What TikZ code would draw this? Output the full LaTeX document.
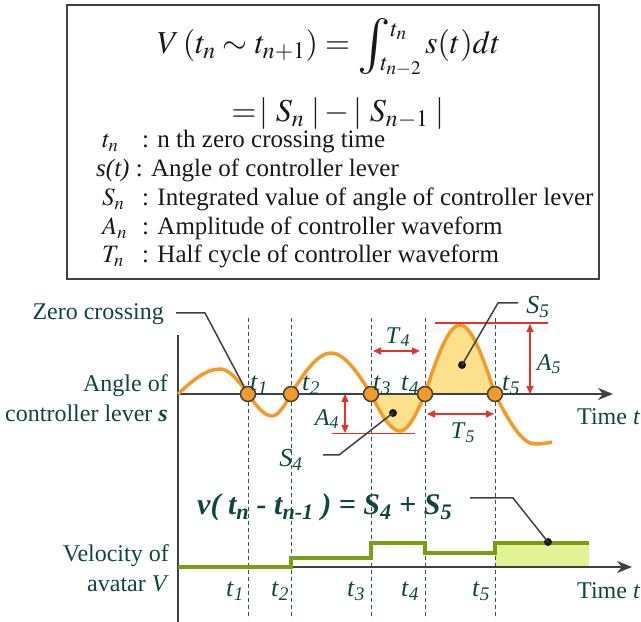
\documentclass[tikz,border=0pt]{standalone}
\usepackage{mathptmx}
\usepackage{fontspec}
\setmainfont{Liberation Serif}
\usetikzlibrary{arrows.meta}
\definecolor{tealc}{RGB}{14,70,66}
\definecolor{dashc}{RGB}{40,90,88}
\definecolor{orangec}{RGB}{243,155,38}
\definecolor{fillc}{RGB}{252,224,140}
\definecolor{redc}{RGB}{228,50,45}
\definecolor{greenc}{RGB}{122,160,18}
\definecolor{lgreen}{RGB}{228,242,150}
\definecolor{axisc}{RGB}{64,64,64}
\definecolor{inkc}{RGB}{25,25,25}
\newcommand{\bigint}{\mathop{\vcenter{\hbox{\scalebox{1.75}{$\textstyle\int$}}}}\nolimits}
\tikzset{
  lbl/.style={text=tealc, font=\fontsize{24}{30}\selectfont, inner sep=0pt},
  tl/.style={text=tealc, font=\fontsize{26}{30}\selectfont, inner sep=0pt, anchor=base west},
  leg/.style={text=inkc, font=\fontsize{25}{28}\selectfont, inner sep=0pt, anchor=base west},
  axisline/.style={draw=axisc, line width=2pt},
  axisarrow/.style={axisline, -{Stealth[length=15pt,width=12pt]}},
  dashv/.style={draw=dashc, line width=1pt, dash pattern=on 4pt off 3pt},
  wave/.style={draw=orangec, line width=3.5pt},
  zc/.style={circle, fill=orangec, draw=axisc, line width=1.5pt, minimum size=15pt, inner sep=0pt},
  redline/.style={draw=redc, line width=1.5pt},
  redarrow/.style={draw=redc, line width=1.5pt, {Triangle[length=8pt,width=7pt]}-{Triangle[length=8pt,width=7pt]}},
  leader/.style={draw=axisc, line width=1.5pt},
  blackdot/.style={circle, fill=inkc, minimum size=8pt, inner sep=0pt},
  greenline/.style={draw=greenc, line width=3.5pt},
}
\begin{document}
\begin{tikzpicture}[x=1pt,y=1pt]
\useasboundingbox (0,0) rectangle (641,622);
% ---------- legend box ----------
\node[draw=axisc, line width=2pt, minimum width=532pt, minimum height=274pt, anchor=north west, inner sep=0pt] (box) at (66,618) {};
\node[text=inkc, inner sep=0pt, anchor=base] (eq1) at (329,568) {\fontsize{32}{36}\selectfont $V\,(t_n \sim t_{n+1}) = \bigint^{\raisebox{-9pt}{$\scriptstyle t_n$}}_{\hspace{-10pt}\raisebox{5pt}{$\scriptstyle t_{n-2}$}} s(t)dt$};
\node[text=inkc, inner sep=0pt, anchor=base] (eq2) at (338,500) {\fontsize{32}{36}\selectfont $=\!|\;S_n\;| - |\;S_{n-1}\;|$};
\node[leg] (s1) at (102,474) {$t_n$};
\node[leg] (d1) at (142,474) {: n th zero crossing time};
\node[leg] (s2) at (96,445) {\textit{s(t)} : Angle of controller lever};
\node[leg] (s3) at (102,416) {$S_n$};
\node[leg] (d3) at (142,416) {: Integrated value of angle of controller lever};
\node[leg] (s4) at (102,387.5) {$A_n$};
\node[leg] (d4) at (142,387.5) {: Amplitude of controller waveform};
\node[leg] (s5) at (102,359) {$T_n$};
\node[leg] (d5) at (142,359) {: Half cycle of controller waveform};
% ---------- fills ----------
\fill[fillc] (371,228) .. controls (380.7,208.6) and (390.3,191) .. (400,191)
  .. controls (408.3,191) and (416.7,208.6) .. (425,228) -- cycle;
\fill[fillc] (425,228) .. controls (436.7,264.1) and (448.3,297) .. (460,297)
  .. controls (471.7,297) and (483.3,264.1) .. (495,228) -- cycle;
\fill[lgreen] (495,55) rectangle (589,79);
% ---------- dashed time lines ----------
\foreach \x in {248,291,371,425,495}{\draw[dashv] (\x,304) -- (\x,3);}
% ---------- axes ----------
\coordinate (vtop) at (178,287);
\coordinate (vbot) at (178,0);
\coordinate (o1) at (178,228);
\coordinate (e1) at (613,228);
\coordinate (o2) at (178,55);
\coordinate (e2) at (632,55);
\draw[axisline] (vtop) -- (vbot);
\draw[axisarrow] (o1) -- (e1);
\draw[axisarrow] (o2) -- (e2);
% ---------- waveform ----------
\draw[wave] (178,228) .. controls (192,241.1) and (206,253) .. (220,253)
  .. controls (229.3,253) and (238.7,241.1) .. (248,228)
  .. controls (256,216.5) and (264,206) .. (272,206)
  .. controls (278.3,206) and (284.7,216.5) .. (291,228)
  .. controls (304.3,249.5) and (317.7,269) .. (331,269)
  .. controls (344.3,269) and (357.7,249.5) .. (371,228)
  .. controls (380.7,208.6) and (390.3,191) .. (400,191)
  .. controls (408.3,191) and (416.7,208.6) .. (425,228)
  .. controls (436.7,264.1) and (448.3,297) .. (460,297)
  .. controls (471.7,297) and (483.3,264.1) .. (495,228)
  .. controls (508.3,201.8) and (521.7,178) .. (535,178)
  .. controls (542,178) and (548,179) .. (552,180);
% ---------- red measures ----------
\coordinate (a4l) at (332,188.5); \coordinate (a4r) at (415,188.5);
\coordinate (a5l) at (435,299); \coordinate (a5r) at (548,299);
\draw[redline] (a4l) -- (a4r);
\draw[redline] (a5l) -- (a5r);
\coordinate (a4t) at (345,228); \coordinate (a4b) at (345,189);
\coordinate (a5t) at (530,298); \coordinate (a5b) at (530,228);
\coordinate (t4l) at (373,271); \coordinate (t4r) at (420,271);
\coordinate (t5l) at (427,208); \coordinate (t5r) at (494,208);
\draw[redarrow] (a4t) -- (a4b);
\draw[redarrow] (a5t) -- (a5b);
\draw[redarrow] (t4l) -- (t4r);
\draw[redarrow] (t5l) -- (t5r);
\node[lbl] (A4) at (327,203) {\textit{A}\textsubscript{\textit{4}}};
\node[lbl] (A5) at (549,258) {\textit{A}\textsubscript{\textit{5}}};
\node[lbl] (T4) at (398,285) {\textit{T}\textsubscript{\textit{4}}};
\node[lbl] (T5) at (463,189) {\textit{T}\textsubscript{\textit{5}}};
% ---------- zero crossings ----------
\node[zc] (z1) at (248,228) {};
\node[zc] (z2) at (291,228) {};
\node[zc] (z3) at (371,228) {};
\node[zc] (z4) at (425,228) {};
\node[zc] (z5) at (495,228) {};
\node[tl] (ut1) at (250,231) {\textit{t}\textsubscript{\textit{1}}};
\node[tl] (ut2) at (302,231) {\textit{t}\textsubscript{\textit{2}}};
\node[tl] (ut3) at (373,231) {\textit{t}\textsubscript{\textit{3}}};
\node[tl] (ut4) at (401,231) {\textit{t}\textsubscript{\textit{4}}};
\node[tl] (ut5) at (502,231) {\textit{t}\textsubscript{\textit{5}}};
% ---------- S labels and leaders ----------
\node[blackdot] (d5dot) at (462,257) {};
\node[blackdot] (d4dot) at (393,209) {};
\node[lbl, font=\fontsize{26}{30}\selectfont] (S5) at (538,315) {\textit{S}\textsubscript{\textit{5}}};
\node[lbl, font=\fontsize{26}{30}\selectfont] (S4) at (291,162) {\textit{S}\textsubscript{\textit{4}}};
\coordinate (l5a) at (518,319); \coordinate (l5b) at (498,319);
\draw[leader] (l5a) -- (l5b) -- (d5dot.center);
\coordinate (l4a) at (323,167); \coordinate (l4b) at (339,167);
\draw[leader] (l4a) -- (l4b) -- (d4dot.center);
% ---------- left labels ----------
\node[lbl, anchor=base east] (zero) at (164,302) {Zero crossing};
\coordinate (zl1) at (176,309); \coordinate (zl2) at (205,309);
\draw[leader] (zl1) -- (zl2) -- (z1);
\node[lbl, anchor=base east, align=right] (angle) at (168,200) {Angle of\\controller lever \textbf{\textit{s}}};
\node[lbl, anchor=base east, align=right] (vel) at (169,30) {Velocity of\\avatar \textit{V}};
\node[lbl, anchor=base west] (time1) at (577,197) {Time \textit{t}};
\node[lbl, anchor=base west] (time2) at (577,23) {Time \textit{t}};
% ---------- velocity ----------
\draw[greenline] (178,55) -- (291,55) -- (291,64) -- (371,64) -- (371,79) -- (425,79) -- (425,69) -- (495,69) -- (495,79) -- (589,79);
\node[blackdot] (vdot) at (548,80) {};
\node[lbl, anchor=base west, font=\bfseries\itshape\fontsize{30}{34}\selectfont] (veq) at (197,107) {v( t\textsubscript{n} - t\textsubscript{n-1} ) = S\textsubscript{4} + S\textsubscript{5}};
\coordinate (vl1) at (470,124); \coordinate (vl2) at (513,124);
\draw[leader] (vl1) -- (vl2) -- (vdot.center);
\node[tl] (lt1) at (226,25) {\textit{t}\textsubscript{\textit{1}}};
\node[tl] (lt2) at (271,25) {\textit{t}\textsubscript{\textit{2}}};
\node[tl] (lt3) at (347,25) {\textit{t}\textsubscript{\textit{3}}};
\node[tl] (lt4) at (401,25) {\textit{t}\textsubscript{\textit{4}}};
\node[tl] (lt5) at (472,25) {\textit{t}\textsubscript{\textit{5}}};
\end{tikzpicture}
\end{document}
